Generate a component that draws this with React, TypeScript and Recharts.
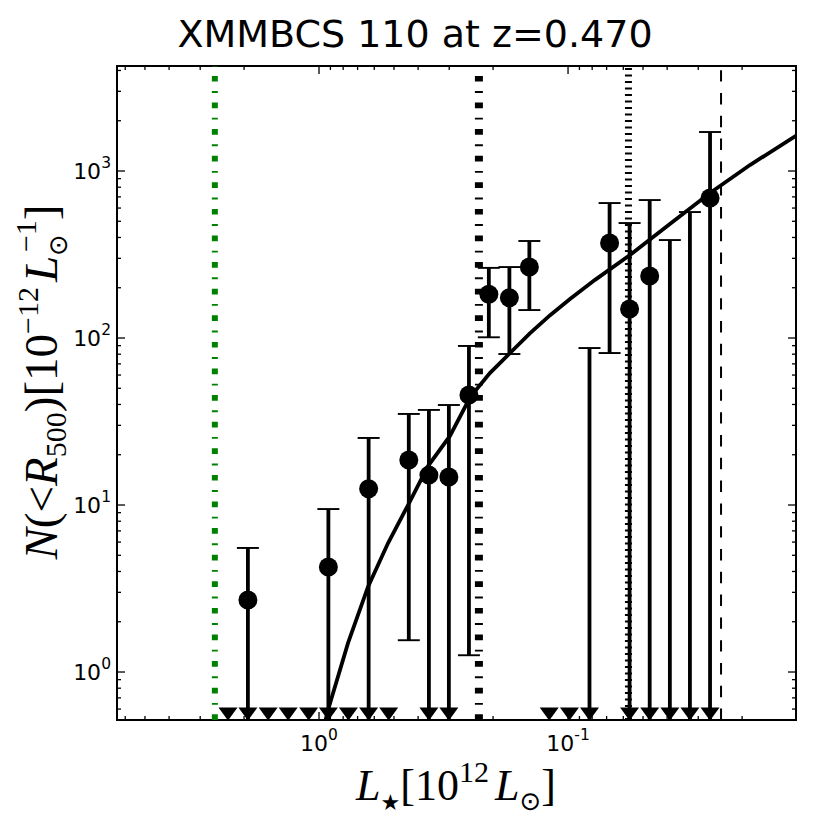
import React from 'react';
import {
  ComposedChart,
  Scatter,
  Line,
  XAxis,
  YAxis,
  ErrorBar,
  ReferenceLine,
  ReferenceArea,
} from 'recharts';

// bins of 0.2 mag, luminosity in 10^12 Lsun
const binL = [2.32, 1.93, 1.6, 1.33, 1.1, 0.917, 0.762, 0.632, 0.525, 0.436, 0.362, 0.301, 0.25, 0.208, 0.172, 0.143, 0.119, 0.0987, 0.082, 0.0681, 0.0566, 0.047, 0.039, 0.0324, 0.0269];
// measured N(<R500); null = below the plot
const binN = [null, 2.7, null, null, null, 4.25, null, 12.5, null, 18.6, 15.1, 14.7, 45.6, 183, 174, 266, null, null, null, 371, 149, 235, null, null, 689];
// upper end of the error bar
const binHi = [null, 5.53, null, null, null, 9.46, null, 25.2, null, 35.1, 37.1, 39.7, 89.6, 263, 266, 381, null, null, 87.1, 643, 488, 670, 386, 568, 1712];
// lower end of the error bar, 0 = goes off the bottom
const binLo = [null, 0, null, null, null, 0, null, 0, null, 1.55, 0, 0, 1.26, 101, 80.2, 147, null, null, 0, 81.3, 0, 0, 0, 0, 0];
// bins flagged with a lower-limit triangle
const binFlag = [1, 1, 1, 1, 1, 1, 1, 1, 1, 0, 1, 1, 0, 0, 0, 0, 1, 1, 1, 0, 1, 1, 1, 1, 1];

// model curve
const curveL = [0.973, 0.92, 0.765, 0.636, 0.528, 0.439, 0.365, 0.298, 0.247, 0.206, 0.171, 0.142, 0.118, 0.0982, 0.0779, 0.0564, 0.039, 0.0269, 0.0186, 0.012];
const curveN = [0.42, 0.592, 1.49, 3.23, 5.92, 10.0, 17.1, 25.9, 44.3, 61.7, 81.3, 107, 137, 171, 223, 314, 482, 738, 1086, 1643];

// vertical markers
const markL = [2.62, 0.228, 0.0572, 0.0243];

const xMajor = [1, 0.1];
const xMajorExp = ['0', '-1'];
const xMinor = [6, 5, 4, 3, 2, 0.9, 0.8, 0.7, 0.6, 0.5, 0.4, 0.3, 0.2, 0.09, 0.08, 0.07, 0.06, 0.05, 0.04, 0.03, 0.02];
const yMajor = [1, 10, 100, 1000];
const yMajorExp = ['0', '1', '2', '3'];
const yMinor = [0.6, 0.7, 0.8, 0.9, 2, 3, 4, 5, 6, 7, 8, 9, 20, 30, 40, 50, 60, 70, 80, 90, 200, 300, 400, 500, 600, 700, 800, 900, 2000, 3000, 4000];

const W = 822;
const H = 822;
const PLOT_L = 109;
const PLOT_T = 58;
const PLOT_R = 788;
const PLOT_B = 712;
const X_MIN = 0.01215;
const X_MAX = 6.475;
const Y_MIN = 0.516;
const Y_MAX = 4254;
const TRI_Y = 0.56;

const markStyle = [
  { stroke: '#008000', strokeWidth: 6, strokeDasharray: '5.7 9.5 1.9 9.5' },
  { stroke: '#000', strokeWidth: 8, strokeDasharray: '5.7 9.5 1.9 9.5' },
  { stroke: '#000', strokeWidth: 7, strokeDasharray: '2 4.5' },
  { stroke: '#000', strokeWidth: 2, strokeDasharray: '11.4 11.4' },
];

const points = binL
  .map((L, i) => ({ L, N: binN[i], hi: binHi[i], lo: binLo[i] }))
  .filter((d) => d.N !== null)
  .map((d) => ({ L: d.L, N: d.N as number, err: [(d.N as number) - (d.lo ? d.lo : Y_MIN), (d.hi as number) - (d.N as number)] }));

const limits = binL
  .map((L, i) => ({ L, N: binN[i], hi: binHi[i] }))
  .filter((d) => d.N === null && d.hi !== null)
  .map((d) => ({ L: d.L, N: Y_MIN, err: [0, (d.hi as number) - Y_MIN] }));

const triangles = binL.filter((_, i) => binFlag[i] === 1).map((L) => ({ L, N: TRI_Y }));

const curve = curveL.map((L, i) => ({ L, N: curveN[i] }));

const XTick = (p: any) => {
  const x = p.x;
  const i = xMajor.indexOf(p.payload.value);
  const len = i >= 0 ? 8 : 4;
  return (
    <g>
      <line x1={x} x2={x} y1={PLOT_B} y2={PLOT_B - len} stroke="#000" strokeWidth={1.3} />
      <line x1={x} x2={x} y1={PLOT_T} y2={PLOT_T + len} stroke="#000" strokeWidth={1.3} />
      {i >= 0 && (
        <text x={x} y={PLOT_B + 31} textAnchor="middle" fontFamily="DejaVu Sans" fontSize={22} fill="#000">
          10<tspan dy={-11} fontSize={15.5}>{xMajorExp[i]}</tspan>
        </text>
      )}
    </g>
  );
};

const YTick = (p: any) => {
  const y = p.y;
  const i = yMajor.indexOf(p.payload.value);
  const len = i >= 0 ? 8 : 4;
  return (
    <g>
      <line x1={PLOT_L} x2={PLOT_L + len} y1={y} y2={y} stroke="#000" strokeWidth={1.3} />
      <line x1={PLOT_R} x2={PLOT_R - len} y1={y} y2={y} stroke="#000" strokeWidth={1.3} />
      {i >= 0 && (
        <text x={PLOT_L - 6} y={y + 8} textAnchor="end" fontFamily="DejaVu Sans" fontSize={22} fill="#000">
          10<tspan dy={-11} fontSize={15.5}>{yMajorExp[i]}</tspan>
        </text>
      )}
    </g>
  );
};

const Dot = (p: any) => <circle cx={p.cx} cy={p.cy} r={9.5} fill="#000" />;
const Tri = (p: any) => (
  <path d={`M${p.cx - 9.5},${p.cy - 6.5} L${p.cx + 9.5},${p.cy - 6.5} L${p.cx},${p.cy + 6.5} Z`} fill="#000" />
);
const Nothing = () => <g />;

const mathFont = '"Liberation Serif", "DejaVu Serif", serif';

export default function App() {
  return (
    <div style={{ position: 'relative', width: W, height: H }}>
      <ComposedChart width={W} height={H} margin={{ top: PLOT_T, right: W - PLOT_R, bottom: 50, left: 9 }}>
        <XAxis
          dataKey="L"
          type="number"
          scale="log"
          domain={[X_MIN, X_MAX]}
          reversed
          allowDataOverflow
          ticks={[...xMajor, ...xMinor]}
          interval={0}
          tick={(p: any) => <XTick {...p} />}
          tickLine={false}
          axisLine={false}
          tickSize={0}
          height={H - 50 - PLOT_B}
        />
        <YAxis
          dataKey="N"
          type="number"
          scale="log"
          domain={[Y_MIN, Y_MAX]}
          allowDataOverflow
          ticks={[...yMajor, ...yMinor]}
          interval={0}
          tick={(p: any) => <YTick {...p} />}
          tickLine={false}
          axisLine={false}
          tickSize={0}
          width={PLOT_L - 9}
        />
        {markL.map((L, i) => (
          <ReferenceLine key={i} x={L} {...markStyle[i]} />
        ))}
        <Line data={curve} dataKey="N" type="linear" stroke="#000" strokeWidth={3.8} dot={false} isAnimationActive={false} />
        <Scatter data={limits} shape={Nothing} isAnimationActive={false}>
          <ErrorBar dataKey="err" direction="y" width={0} stroke="#000" strokeWidth={3.8} />
          <ErrorBar dataKey="err" direction="y" width={11} stroke="#000" strokeWidth={1.9} />
        </Scatter>
        <Scatter data={points} shape={Dot} isAnimationActive={false}>
          <ErrorBar dataKey="err" direction="y" width={0} stroke="#000" strokeWidth={3.8} />
          <ErrorBar dataKey="err" direction="y" width={11} stroke="#000" strokeWidth={1.9} />
        </Scatter>
        <Scatter data={triangles} shape={Tri} isAnimationActive={false} />
        <ReferenceArea x1={X_MIN} x2={X_MAX} y1={Y_MIN} y2={Y_MAX} fill="none" stroke="#000" strokeWidth={2} />
      </ComposedChart>
      <svg width={W} height={H} style={{ position: 'absolute', left: 0, top: 0, pointerEvents: 'none' }}>
        <text x={407} y={39} textAnchor="middle" fontFamily="DejaVu Sans" fontSize={38} fill="#000">
          XMMBCS 110 at z=0.470
        </text>
        <text x={448} y={792} textAnchor="middle" fontFamily={mathFont} fontSize={44} fill="#000">
          <tspan fontStyle="italic">L</tspan>
          <tspan fontSize={22} dy={10} fontFamily="DejaVu Sans">★</tspan>
          <tspan dy={-10}>[10</tspan>
          <tspan fontSize={30} dy={-18}>12</tspan>
          <tspan dy={18} dx={6} fontStyle="italic">L</tspan>
          <tspan fontSize={26} dy={10} fontFamily="DejaVu Sans">⊙</tspan>
          <tspan dy={-10}>]</tspan>
        </text>
        <text transform="translate(49,374) rotate(-90)" textAnchor="middle" fontFamily={mathFont} fontSize={47} fill="#000">
          <tspan fontStyle="italic">N</tspan>
          <tspan>{'(<'}</tspan>
          <tspan fontStyle="italic">R</tspan>
          <tspan fontSize={30} dy={9}>500</tspan>
          <tspan dy={-9}>)[10</tspan>
          <tspan fontSize={30} dy={-19}>−12</tspan>
          <tspan dy={19} dx={5} fontStyle="italic">L</tspan>
          <tspan fontSize={26} dy={10} fontFamily="DejaVu Sans">⊙</tspan>
          <tspan fontSize={30} dx={-18} dy={-31}>−1</tspan>
          <tspan dy={21}>]</tspan>
        </text>
      </svg>
    </div>
  );
}
